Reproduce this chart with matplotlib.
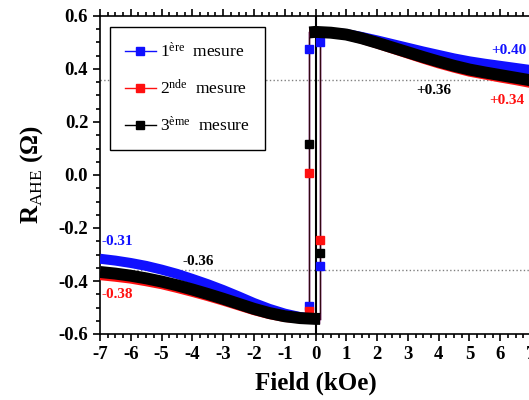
import matplotlib
matplotlib.use('Agg')
import matplotlib.pyplot as plt
from matplotlib.ticker import MultipleLocator

plt.rcParams['font.family'] = ['Liberation Serif', 'DejaVu Serif']
plt.rcParams['mathtext.fontset'] = 'custom'
plt.rcParams['mathtext.rm'] = 'Liberation Serif'
plt.rcParams['mathtext.bf'] = 'Liberation Serif:bold'

# positive (saturated up) branch, field in kOe
h_pos = [-0.2, 0, 0.5, 1, 1.5, 2, 2.5, 3, 3.5, 4, 4.5, 5, 5.5, 6, 6.5, 7]
blue_pos = [0.538, 0.540, 0.537, 0.532, 0.521, 0.508, 0.494, 0.480, 0.466, 0.453, 0.440, 0.429, 0.420, 0.412, 0.404, 0.396]
red_pos = [0.538, 0.540, 0.537, 0.529, 0.514, 0.496, 0.477, 0.458, 0.439, 0.421, 0.405, 0.390, 0.379, 0.368, 0.358, 0.347]
black_pos = [0.538, 0.540, 0.537, 0.530, 0.516, 0.499, 0.481, 0.463, 0.445, 0.428, 0.412, 0.398, 0.387, 0.377, 0.367, 0.357]

# negative (saturated down) branch
h_neg = [-7, -6.5, -6, -5.5, -5, -4.5, -4, -3.5, -3, -2.5, -2, -1.5, -1, -0.5, 0, 0.15]
blue_neg = [-0.316, -0.323, -0.332, -0.343, -0.357, -0.373, -0.392, -0.412, -0.434, -0.458, -0.483, -0.505, -0.523, -0.536, -0.543, -0.543]
red_neg = [-0.378, -0.384, -0.391, -0.401, -0.412, -0.426, -0.441, -0.457, -0.474, -0.492, -0.510, -0.525, -0.536, -0.541, -0.543, -0.543]
black_neg = [-0.366, -0.372, -0.380, -0.390, -0.402, -0.416, -0.432, -0.449, -0.467, -0.486, -0.505, -0.521, -0.533, -0.540, -0.543, -0.543]

# switching points (field, intermediate values)
h_down, h_up = -0.2, 0.15
blue_down = [0.475, -0.494]
red_down = [0.007, -0.512]
black_down = [0.118]
blue_up = [-0.342, 0.502]
red_up = [-0.245]
black_up = [-0.295]

labels = [r'$\mathrm{1^{ère}}$  mesure', r'$\mathrm{2^{nde}}$  mesure', r'$\mathrm{3^{ème}}$  mesure']
colors = ['#1010ff', '#ff1010', 'black']
widths = [7.2, 7.2, 8.6]

fig = plt.figure(figsize=(5.29, 4.0), dpi=100)
ax = fig.add_axes([100/529, 66/400, 431/529, 318/400])

ax.axhline(0.36, color='grey', ls=':', lw=1, zorder=1)
ax.axhline(-0.36, color='grey', ls=':', lw=1, zorder=1)
ax.axvline(0, color='black', lw=1.5, zorder=1)

series = [
    (blue_pos, blue_neg, blue_down, blue_up),
    (red_pos, red_neg, red_down, red_up),
    (black_pos, black_neg, black_down, black_up),
]
for i, (pos, neg, down, up) in enumerate(series):
    c = colors[i]
    z = 3 + i
    ax.plot(h_pos, pos, color=c, lw=widths[i], solid_capstyle='butt', zorder=z)
    ax.plot(h_neg, neg, color=c, lw=widths[i], solid_capstyle='butt', zorder=z)
    # vertical switching lines
    ax.plot([h_down] * (len(down) + 2), [pos[0]] + down + [neg[-1]], color=c, lw=1.0, alpha=0.75, zorder=2)
    ax.plot([h_up] * (len(up) + 2), [neg[-1]] + up + [pos[0]], color=c, lw=1.0, alpha=0.75, zorder=2)
    ax.plot([h_down] * len(down), down, 's', color=c, ms=5.5, zorder=z)
    ax.plot([h_up] * len(up), up, 's', color=c, ms=5.5, zorder=z)
    # legend handle
    ax.plot([], [], '-s', color=c, lw=1, ms=6, label=labels[i])

# value annotations
fs = 11
ax.text(5.71, 0.468, '+0.40', color='#1010ff', fontsize=fs, fontweight='bold', va='center')
ax.text(3.28, 0.317, '+0.36', color='black', fontsize=fs, fontweight='bold', va='center')
ax.text(5.66, 0.283, '+0.34', color='#ff1010', fontsize=fs, fontweight='bold', va='center')
ax.text(-6.95, -0.251, '-0.31', color='#1010ff', fontsize=fs, fontweight='bold', va='center')
ax.text(-4.31, -0.325, '-0.36', color='black', fontsize=fs, fontweight='bold', va='center')
ax.text(-6.95, -0.451, '-0.38', color='#ff1010', fontsize=fs, fontweight='bold', va='center')

ax.set_xlim(-7, 7)
ax.set_ylim(-0.6, 0.6)
ax.xaxis.set_minor_locator(MultipleLocator(0.25))
ax.yaxis.set_minor_locator(MultipleLocator(0.05))
ax.tick_params(which='both', direction='out', top=True, labeltop=False, width=1.2)
ax.tick_params(which='major', length=5, labelsize=13.5)
ax.tick_params(which='minor', length=3)
ax.set_xticks(range(-7, 8))
ax.set_xticklabels([str(v) for v in range(-7, 8)], fontweight='bold')
ax.set_yticks([-0.6, -0.4, -0.2, 0.0, 0.2, 0.4, 0.6])
ax.set_yticklabels(['-0.6', '-0.4', '-0.2', '0.0', '0.2', '0.4', '0.6'], fontweight='bold')
for s in ax.spines.values():
    s.set_linewidth(1.2)

ax.set_xlabel('Field (kOe)', fontsize=18, fontweight='bold', labelpad=6)
ax.set_ylabel(r'R$_\mathrm{AHE}$ ($\mathbf{\Omega}$)', fontsize=18, fontweight='bold', labelpad=10)

leg = ax.legend(loc='upper left', bbox_to_anchor=(0.023, 0.965), borderaxespad=0, fontsize=12.5,
                frameon=True, fancybox=False, edgecolor='black', framealpha=1,
                labelspacing=1.03, handlelength=1.8, borderpad=0.86, handletextpad=0.25)
leg.get_frame().set_linewidth(1)
leg.set_zorder(10)

fig.savefig('out.png', dpi=100)
